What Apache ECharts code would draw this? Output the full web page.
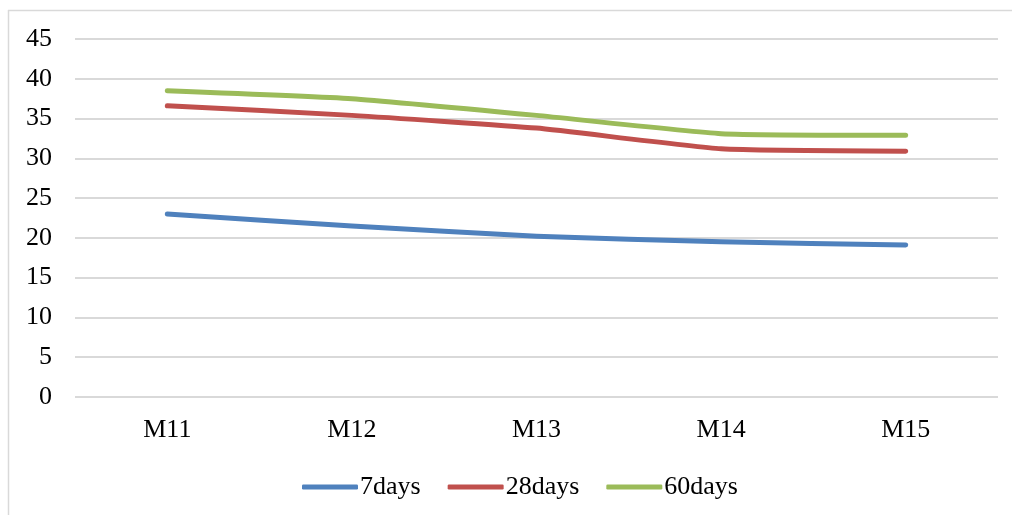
<!DOCTYPE html>
<html>
<head>
<meta charset="utf-8">
<script src="https://cdn.jsdelivr.net/npm/echarts@6/dist/echarts.min.js"></script>
<style>
html,body{margin:0;padding:0;background:#fff;}
#chart{width:1012px;height:515px;}
</style>
</head>
<body>
<div id="chart"></div>
<script>
var categories = ['M11', 'M12', 'M13', 'M14', 'M15'];
var days7 = [23.0, 21.5, 20.2, 19.5, 19.1];
var days28 = [36.6, 35.4, 33.8, 31.2, 30.9];
var days60 = [38.5, 37.5, 35.4, 33.1, 32.9];
var seriesNames = ['7days', '28days', '60days'];
var yTicks = { min: 0, max: 45, interval: 5 };

var colors = ['#4F81BD', '#C0504D', '#9BBB59'];
var font = '"Liberation Serif", "Times New Roman", serif';
var chart = echarts.init(document.getElementById('chart'));

function mk(name, data, color) {
  return {
    name: name, type: 'line', data: data, symbol: 'none', smooth: 0.15,
    lineStyle: { width: 5, color: color, cap: 'round', join: 'round' },
    itemStyle: { color: color }
  };
}

chart.setOption({
  animation: false,
  backgroundColor: '#fff',
  grid: { left: 75, right: 14, top: 39, bottom: 118, containLabel: false },
  legend: {
    left: 297, top: 469,
    icon: 'roundRect',
    itemWidth: 56, itemHeight: 5, itemGap: 27,
    textStyle: { fontFamily: font, fontSize: 26, color: '#000', padding: [0, 0, 0, -3] },
    data: seriesNames
  },
  xAxis: {
    type: 'category', data: categories, boundaryGap: true,
    axisLine: { show: false }, axisTick: { show: false },
    axisLabel: { fontFamily: font, fontSize: 26, color: '#000', margin: 20 }
  },
  yAxis: {
    type: 'value', min: yTicks.min, max: yTicks.max, interval: yTicks.interval,
    axisLine: { show: false }, axisTick: { show: false },
    axisLabel: { fontFamily: font, fontSize: 26, color: '#000', margin: 23 },
    splitLine: { lineStyle: { color: '#d9d9d9', width: 2 } }
  },
  series: [
    mk(seriesNames[0], days7, colors[0]),
    mk(seriesNames[1], days28, colors[1]),
    mk(seriesNames[2], days60, colors[2])
  ],
  graphic: [
    { type: 'line', shape: { x1: 8.5, y1: 10, x2: 8.5, y2: 515 }, style: { stroke: '#d9d9d9', lineWidth: 1.5 } },
    { type: 'line', shape: { x1: 8, y1: 10.5, x2: 1012, y2: 10.5 }, style: { stroke: '#d9d9d9', lineWidth: 1.5 } }
  ]
});
</script>
</body>
</html>
